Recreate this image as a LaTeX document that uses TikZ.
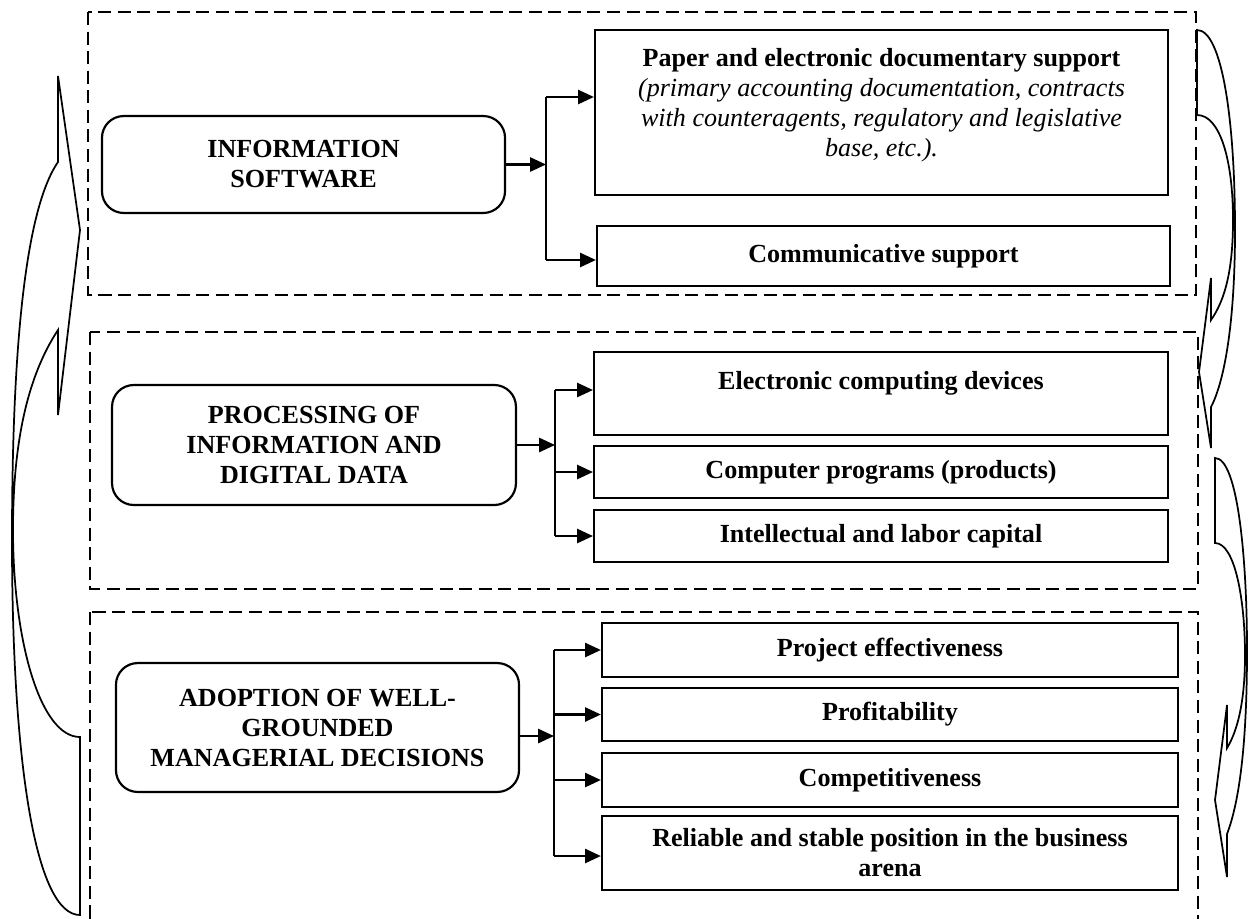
\documentclass[tikz,border=0pt]{standalone}
\usepackage{fontspec}
\setmainfont{Liberation Serif}
\usetikzlibrary{arrows.meta}
\tikzset{
  sq/.style={draw,line width=1pt,inner sep=0pt,align=center,
    font=\fontsize{12}{13.8}\selectfont\bfseries},
  rnd/.style={sq,rounded corners=10pt},
  frame/.style={line width=0.9pt,dash pattern=on 6pt off 3pt},
  link/.style={line width=1pt,-{Triangle[length=7.3pt,width=6.5pt]}},
  bus/.style={line width=1pt},
  curved/.style={line width=0.8pt,line join=miter}
}
\begin{document}
\begin{tikzpicture}[x=0.46pt,y=-0.46pt]
\useasboundingbox (0,0) rectangle (1248,918);
% dashed frames
\draw[frame] (88,12) rectangle (1196,295);
\draw[frame] (90,332) rectangle (1198,589);
\draw[frame] (90,612) rectangle (1198,940);
% left column
\path (303.5,164.5) node[rnd,minimum width=185.4pt,minimum height=44.6pt](infsoft){INFORMATION\\SOFTWARE}
      (314,445) node[rnd,minimum width=185.8pt,minimum height=55.2pt](processing){PROCESSING OF\\INFORMATION AND\\DIGITAL DATA}
      (317.5,727.5) node[rnd,minimum width=185.4pt,minimum height=59.3pt](adoption){ADOPTION OF WELL-\\GROUNDED\\MANAGERIAL DECISIONS};
% right column
\path (881.5,112.5) node[sq,minimum width=263.6pt,minimum height=75.9pt](paper){Paper and electronic documentary support\\
        \textit{\mdseries(primary accounting documentation, contracts}\\
        \textit{\mdseries with counteragents, regulatory and legislative}\\
        \textit{\mdseries base, etc.).}\\[-4.6pt]\mbox{}}
      (883.5,256) node[sq,minimum width=263.6pt,minimum height=27.6pt](commsup){Communicative support}
      (881,393.5) node[sq,minimum width=264pt,minimum height=38.2pt](devices){Electronic computing devices\\[-1.4pt]\mbox{}}
      (881,472) node[sq,minimum width=264pt,minimum height=23.9pt](programs){Computer programs (products)}
      (881,536) node[sq,minimum width=264pt,minimum height=23.9pt](capital){Intellectual and labor capital}
      (890,650) node[sq,minimum width=265pt,minimum height=24.8pt](effect){Project effectiveness}
      (890,714.5) node[sq,minimum width=265pt,minimum height=24.4pt](profit){Profitability}
      (890,780) node[sq,minimum width=265pt,minimum height=24.8pt](compet){Competitiveness}
      (890,853) node[sq,minimum width=265pt,minimum height=34pt](position){Reliable and stable position in the business\\arena};
% branching points
\coordinate (j1) at (546,164.5);
\coordinate (j1t) at (546,97);
\coordinate (j1b) at (546,260);
\coordinate (j2) at (555,445);
\coordinate (j2t) at (555,390);
\coordinate (j2b) at (555,536);
\coordinate (j3) at (554,736);
\coordinate (j3t) at (554,650);
\coordinate (j3b) at (554,856);
\draw[link] (infsoft.east) -- (j1);
\draw[bus] (j1t) -- (j1b);
\draw[link] (j1t) -- (j1t -| paper.west);
\draw[link] (j1b) -- (j1b -| commsup.west);
\draw[link] (processing.east) -- (j2);
\draw[bus] (j2t) -- (j2b);
\draw[link] (j2t) -- (j2t -| devices.west);
\draw[link] (j2 |- programs) -- (programs.west);
\draw[link] (j2b) -- (j2b -| capital.west);
\draw[link] (j3 -| adoption.east) -- (j3);
\draw[bus] (j3t) -- (j3b);
\draw[link] (j3t) -- (j3t -| effect.west);
\draw[link] (j3 |- profit) -- (profit.west);
\draw[link] (j3 |- compet) -- (compet.west);
\draw[link] (j3b) -- (j3b -| position.west);
% curved arrows at the sides
\draw[curved] (80,915) .. controls (35,915) and (12,760) .. (12,540)
  .. controls (12,350) and (25,210) .. (58,162) -- (58,76) -- (80,230) -- (58,415) -- (58,330)
  .. controls (25,380) and (13,450) .. (13,530) .. controls (13,640) and (40,737) .. (80,737) -- cycle;
\draw[curved] (1197,30) .. controls (1222,30) and (1235,120) .. (1235,230)
  .. controls (1235,320) and (1225,380) .. (1211,407) -- (1211,448) -- (1199,372) -- (1211,278) -- (1211,320)
  .. controls (1225,300) and (1233,270) .. (1233,220) .. controls (1233,160) and (1220,115) .. (1197,115) -- cycle;
\draw[curved] (1215,458) .. controls (1238,458) and (1247,560) .. (1247,650)
  .. controls (1247,740) and (1240,800) .. (1227,834) -- (1227,877) -- (1215,800) -- (1227,705) -- (1227,748)
  .. controls (1238,730) and (1245,700) .. (1245,655) .. controls (1245,600) and (1235,543) .. (1215,543) -- cycle;
% \draw[curved] (1215,458) -- (1215,543);
\end{tikzpicture}
\end{document}
